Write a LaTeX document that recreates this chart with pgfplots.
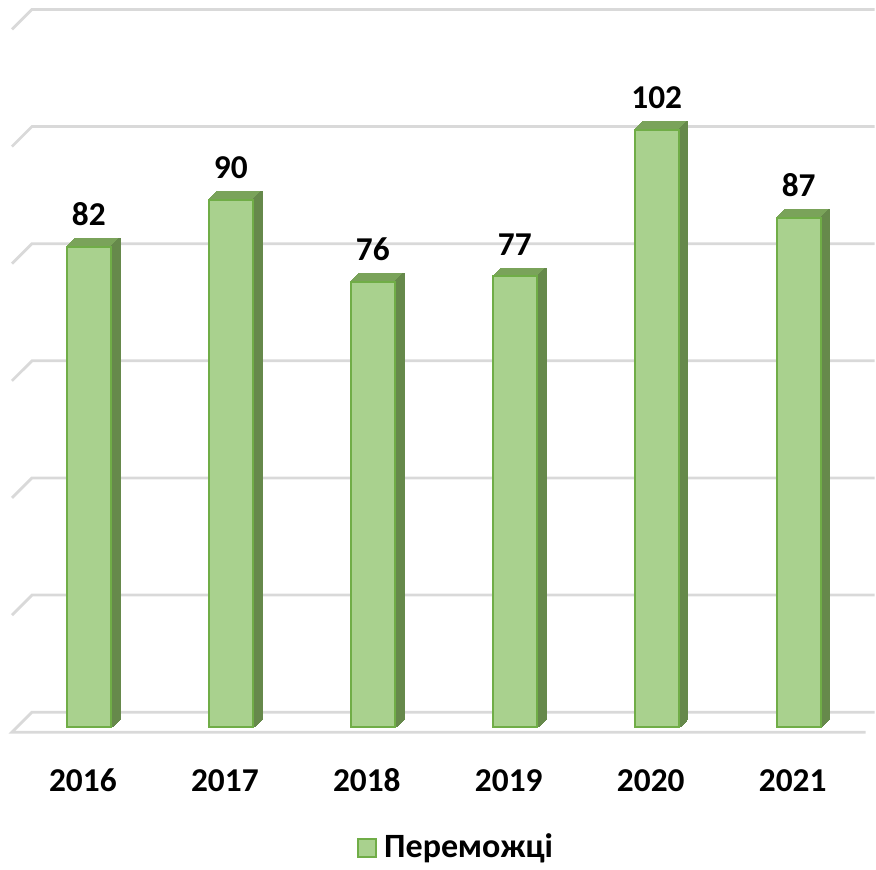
\documentclass[border=0pt]{standalone}
\usepackage{fontspec}
\setmainfont{Carlito}
\usepackage{pgfplots}
\usepackage{pgfplotstable}
\pgfplotsset{compat=1.18}

\definecolor{barfront}{RGB}{169,209,142}
\definecolor{baredge}{RGB}{112,173,71}
\definecolor{bartop}{RGB}{122,163,90}
\definecolor{barside}{RGB}{102,137,75}
\definecolor{gridgray}{RGB}{217,217,217}

\pgfplotstableread{
x v
0 82
1 90
2 76
3 77
4 102
5 87
}\winners

\begin{document}
\begin{tikzpicture}
\begin{axis}[
  width=8.76cm, height=8.68cm, scale only axis,
  xmin=-0.6259, xmax=5.5345, ymin=-23.87, ymax=124.11,
  axis line style={draw=none},
  ytick=\empty,
  xtick={0,...,5},
  xticklabels={2016,2017,2018,2019,2020,2021},
  major tick length=0pt,
  xticklabel style={font=\bfseries\fontsize{9.5}{11}\selectfont, anchor=base,
    yshift=0.76cm, xshift=-0.06cm, inner sep=0pt},
  clip=false,
  /pgf/number format/assume math mode=true,
  legend style={draw=none, fill=none, at={(0.4075,0.0219)}, anchor=west,
    inner sep=0pt, font=\bfseries\fontsize{9.7}{11}\selectfont},
  legend cell align=left,
]
% gridlines on the back wall, with the short slanted piece on the left
\addplot[gridgray, line width=0.8pt, forget plot] coordinates {(5.471,-0.85) (-0.5415,-0.85) (-0.4008,2.56) (5.5345,2.56)};
\addplot[gridgray, line width=0.8pt, forget plot] coordinates {(-0.5415,19.15) (-0.4008,22.56) (5.5345,22.56)};
\addplot[gridgray, line width=0.8pt, forget plot] coordinates {(-0.5415,39.15) (-0.4008,42.56) (5.5345,42.56)};
\addplot[gridgray, line width=0.8pt, forget plot] coordinates {(-0.5415,59.15) (-0.4008,62.56) (5.5345,62.56)};
\addplot[gridgray, line width=0.8pt, forget plot] coordinates {(-0.5415,79.15) (-0.4008,82.56) (5.5345,82.56)};
\addplot[gridgray, line width=0.8pt, forget plot] coordinates {(-0.5415,99.15) (-0.4008,102.56) (5.5345,102.56)};
\addplot[gridgray, line width=0.8pt, forget plot] coordinates {(-0.5415,119.15) (-0.4008,122.56) (5.5345,122.56)};

% depth of the bars: top face (whole bar swept backwards), then side face
\pgfplotsinvokeforeach{1,...,8}{
  \addplot[ybar, bar width=0.44cm, fill=bartop, draw=bartop, line width=0.4pt,
    xshift=#1*0.01cm, yshift=#1*0.01cm, forget plot] table[x=x, y=v] {\winners};
}
\pgfplotsinvokeforeach{1,...,8}{
  \addplot[ybar, bar width=0.012cm, bar shift=0.225cm, fill=barside, draw=barside, line width=0.4pt,
    xshift=#1*0.01cm, yshift=#1*0.01cm, forget plot] table[x=x, y=v] {\winners};
}

% front faces
\addplot[ybar, bar width=0.44cm, fill=barfront, draw=baredge, line width=0.6pt,
  nodes near coords,
  nodes near coords style={font=\bfseries\fontsize{9.5}{11}\selectfont, anchor=south,
    yshift=0.2cm, inner sep=0pt, black},
  legend image code/.code={\draw[fill=barfront, draw=baredge, line width=0.6pt] (0cm,-0.09cm) rectangle (0.18cm,0.09cm);}
  ] table[x=x, y=v] {\winners};
\addlegendentry{Переможці}
\end{axis}
\end{tikzpicture}
\end{document}
